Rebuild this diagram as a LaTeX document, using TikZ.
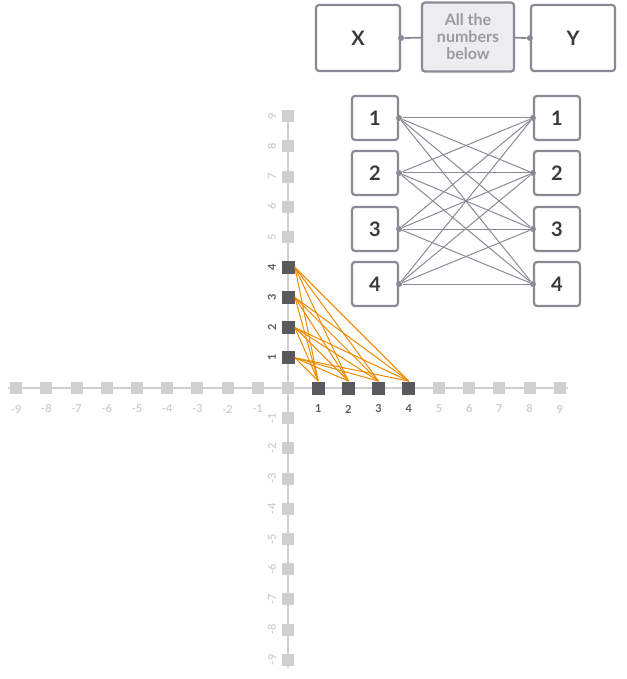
\documentclass[tikz,border=0pt]{standalone}
\usepackage{fontspec}
\setmainfont{Lato}
\begin{document}
\begin{tikzpicture}[x=0.5pt,y=-0.5pt,
  bx/.style={draw=boxgray,line width=1.1pt,rounded corners=1.5pt,fill=white,minimum width=23pt,minimum height=22pt,inner sep=0pt,font=\fontsize{10}{10}\selectfont\bfseries,text=textdark},
  big/.style={draw=boxgray,line width=1.1pt,rounded corners=1.5pt,fill=white,minimum width=42pt,minimum height=33pt,inner sep=0pt,font=\fontsize{10}{10}\selectfont\bfseries,text=textdark},
  tk/.style={fill=lightsq,minimum size=6pt,inner sep=0pt},
  dk/.style={fill=darksq,minimum size=6.5pt,inner sep=0pt},
  lab/.style={font=\fontsize{5.5}{6}\selectfont\bfseries,text=lightsq},
  dlab/.style={font=\fontsize{5.5}{6}\selectfont\bfseries,text=darksq},
  dot/.style={circle,fill=boxgray,inner sep=0pt,minimum size=3pt},
  gl/.style={draw=boxgray,line width=0.5pt},
  ol/.style={draw=orng,line width=0.5pt}]
\definecolor{boxgray}{HTML}{8A8A96}
\definecolor{textdark}{HTML}{3A3A3A}
\definecolor{lightsq}{HTML}{CFCFCF}
\definecolor{darksq}{HTML}{5A5A5E}
\definecolor{orng}{HTML}{F08A00}
\definecolor{midfill}{HTML}{EDEDEF}
\definecolor{midtext}{HTML}{9A9AA0}
\useasboundingbox (0,0) rectangle (626,679);
% axes
\draw[lightsq,line width=1pt] (8,388) -- (568,388);
\draw[lightsq,line width=1pt] (288,112) -- (288,668);
\foreach \i in {-9,...,9}{
  \node[tk] (hx\i) at ({288+30.2*\i},388) {};
  \node[tk] (vy\i) at (288,{388-30.2*\i}) {};
}
\foreach \i in {-9,...,-1,5,6,7,8,9}{
  \node[lab] (xl\i) at ({288+30.2*\i},409) {\i};
  \node[lab,rotate=90] (yl\i) at (272,{388-30.2*\i}) {\i};
}
\foreach \i in {1,...,4}{
  \node[dk] (px\i) at ({288+30.2*\i},388) {};
  \node[dk] (py\i) at (288,{388-30.2*\i}) {};
  \node[dlab] (xd\i) at ({288+30.2*\i},409) {\i};
  \node[dlab,rotate=90] (yd\i) at (272,{388-30.2*\i}) {\i};
}
\foreach \j in {1,...,4}\foreach \i in {1,...,4}{
  \draw[ol] (py\j.east) -- (px\i.north);
}
% right boxes
\foreach \k/\yy in {1/118,2/173,3/229,4/284}{
  \node[bx] (L\k) at (375,\yy) {\k};
  \node[bx] (R\k) at (557,\yy) {\k};
  \node[dot] (dl\k) at (L\k.east) {};
  \node[dot] (dr\k) at (R\k.west) {};
}
\foreach \a in {1,...,4}\foreach \b in {1,...,4}{
  \draw[gl] (dl\a) -- (dr\b);
}
% top
\node[big] (X) at (358,38) {X};
\node[big] (Y) at (573,38) {Y};
\node[big,fill=midfill,minimum width=46pt,minimum height=34.5pt,text=midtext,align=center,font=\fontsize{8}{8.5}\selectfont\bfseries] (M) at (468,37) {All the\\numbers\\below};
\node[dot] (dx) at (X.east) {};
\node[dot] (dy) at (Y.west) {};
\draw[gl,line width=0.9pt] (dx) -- (M);
\draw[gl,line width=0.9pt] (M) -- (dy);
\end{tikzpicture}
\end{document}
